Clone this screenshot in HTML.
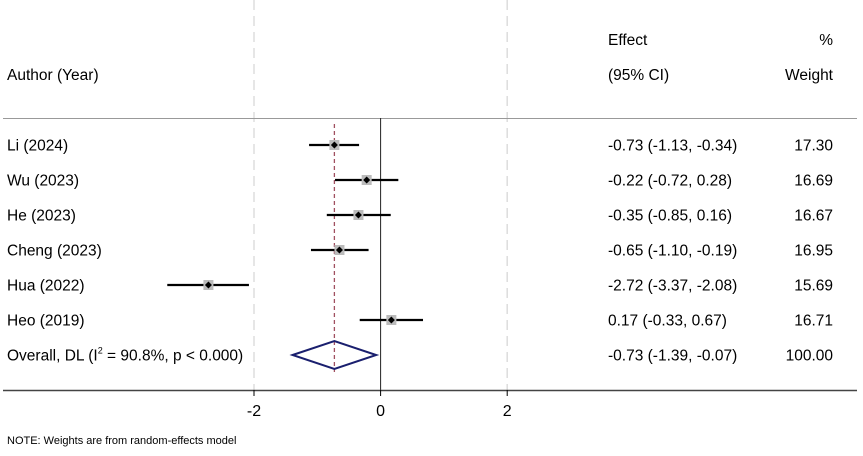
<!DOCTYPE html>
<html><head><meta charset="utf-8"><style>
body{margin:0;background:#fff;}
svg text{font-family:"Liberation Sans",Arial,sans-serif;fill:#000;}
</style></head><body>
<svg id="c" width="863" height="451" xmlns="http://www.w3.org/2000/svg"></svg>
<script>
const labels=["Li (2024)","Wu (2023)","He (2023)","Cheng (2023)","Hua (2022)","Heo (2019)"];
const effects=[-0.73,-0.22,-0.35,-0.65,-2.72,0.17];
const lows=[-1.13,-0.72,-0.85,-1.10,-3.37,-0.33];
const highs=[-0.34,0.28,0.16,-0.19,-2.08,0.67];
const weights=[17.30,16.69,16.67,16.95,15.69,16.71];
const overall=[-0.73,-1.39,-0.07];
const overallWeight=100.00;
const ticks=[-2,0,2];
const svg=document.getElementById('c');const NS="http://www.w3.org/2000/svg";
const X=v=>380.6+v*63.3;const Y=i=>145+i*35;
const FS=15.5;
function el(t,a,txt){const e=document.createElementNS(NS,t);for(const k in a)e.setAttribute(k,a[k]);if(txt!==undefined)e.textContent=txt;svg.appendChild(e);return e;}
const f=v=>v.toFixed(2);
ticks.filter(t=>t!==0).forEach(t=>{const g=el('line',{x1:X(t),x2:X(t),y1:0,y2:390,stroke:'#ddd','stroke-width':1.5,'stroke-dasharray':'10,6'});
});
let l=el('line',{x1:3,x2:857,y1:118.5,y2:118.5,stroke:'#999','stroke-width':1});
l=el('line',{x1:X(0),x2:X(0),y1:118,y2:390,stroke:'#222','stroke-width':1});
l=el('line',{x1:X(overall[0]),x2:X(overall[0]),y1:124,y2:372,stroke:'#a05060','stroke-width':1.3,'stroke-dasharray':'4,3'});
l=el('line',{x1:3,x2:857,y1:390.5,y2:390.5,stroke:'#444','stroke-width':1.5});
ticks.forEach(t=>{let k=el('line',{x1:X(t),x2:X(t),y1:390,y2:396,stroke:'#000'});
let tx=el('text',{x:X(t),y:416,'font-size':16,'text-anchor':'middle'},String(t));});
[['Author (Year)',7,80,'start'],['Effect',608,45,'start'],['(95% CI)',608,80,'start'],['%',833,45,'end'],['Weight',833,80,'end']].forEach(h=>{
let t=el('text',{x:h[1],y:h[2],'font-size':FS,'text-anchor':h[3]},h[0]);});
labels.forEach((lab,i)=>{const y=Y(i);
let t=el('text',{x:7,y:y+5.5,'font-size':FS},lab);
let ci=el('line',{x1:X(lows[i]),x2:X(highs[i]),y1:y,y2:y,stroke:'#000','stroke-width':2.2});
let b=el('rect',{x:X(effects[i])-5,y:y-5,width:10,height:10,fill:'#bbb'});
let d=el('path',{d:`M${X(effects[i])-3.5},${y}L${X(effects[i])},${y-3.5}L${X(effects[i])+3.5},${y}L${X(effects[i])},${y+3.5}Z`,fill:'#000'});
t=el('text',{x:608,y:y+5.5,'font-size':FS},`${f(effects[i])} (${f(lows[i])}, ${f(highs[i])})`);
t=el('text',{x:833,y:y+5.5,'font-size':FS,'text-anchor':'end'},f(weights[i]));});
const oy=Y(6);
let t=el('text',{x:7,y:oy+5.5,'font-size':FS});t.innerHTML='Overall, DL (I<tspan font-size="9" dy="-7">2</tspan><tspan dy="7"> = 90.8%, p &lt; 0.000)</tspan>';
let dm=el('path',{d:`M${X(overall[1])},${oy}L${X(overall[0])},${oy-14}L${X(overall[2])},${oy}L${X(overall[0])},${oy+14}Z`,fill:'none',stroke:'#1a1f6e','stroke-width':2});
t=el('text',{x:608,y:oy+5.5,'font-size':FS},`${f(overall[0])} (${f(overall[1])}, ${f(overall[2])})`);
t=el('text',{x:833,y:oy+5.5,'font-size':FS,'text-anchor':'end'},f(overallWeight));
t=el('text',{x:7,y:444,'font-size':11},'NOTE: Weights are from random-effects model');
</script>
</body></html>
